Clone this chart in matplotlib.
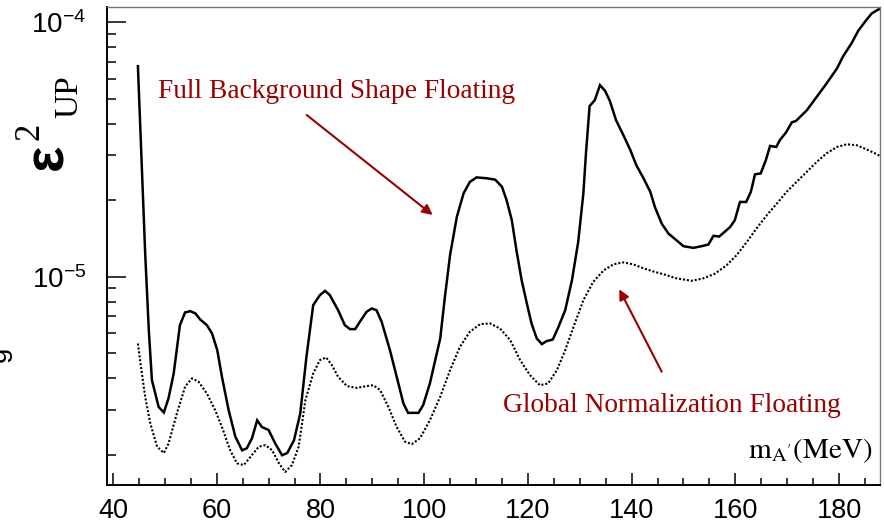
import numpy as np
import matplotlib
matplotlib.use("Agg")
import matplotlib.pyplot as plt
from matplotlib.ticker import FixedLocator, MultipleLocator, LogLocator, NullFormatter

plt.rcParams['mathtext.fontset'] = 'custom'
plt.rcParams['mathtext.rm'] = 'Liberation Sans'
plt.rcParams['mathtext.it'] = 'Liberation Sans:italic'
plt.rcParams['mathtext.bf'] = 'Liberation Sans:bold'

# Upper limit on epsilon^2 vs A' mass, values in units of 1e-6
# Full background shape floating
mass_full = [44.8, 46.2, 46.9, 47.5, 48.8, 49.8, 50.7, 51.7, 52.9, 53.9, 54.9, 55.9,
             56.8, 58.1, 59.1, 60.1, 61.0, 62.3, 63.6, 64.9, 65.8, 66.8, 67.8, 68.7,
             70.0, 71.3, 72.6, 73.6, 74.9, 76.1, 77.3, 78.6, 79.9, 80.9, 81.8, 83.4,
             84.7, 85.7, 86.7, 87.6, 88.9, 89.9, 90.8, 91.8, 93.4, 94.7, 96.0, 96.9,
             98.9, 99.8, 101.1, 103.1, 104.0, 105.0, 106.3, 107.6, 108.8, 110.1, 112.1,
             113.7, 115.0, 115.9, 116.9, 117.8, 118.8, 119.8, 120.7, 121.7, 122.7, 123.6,
             124.8, 125.9, 127.2, 128.5, 129.7, 130.7, 131.2, 131.9, 132.9, 133.9, 134.9,
             135.8, 137.0, 138.4, 139.7, 140.9, 142.3, 143.6, 144.5, 145.8, 147.1, 148.7,
             150.0, 151.9, 153.5, 154.8, 155.8, 156.9, 159.0, 159.9, 160.9, 162.1, 163.0,
             163.8, 164.9, 165.9, 166.7, 167.9, 168.6, 169.8, 170.9, 171.7, 173.8, 175.7,
             177.6, 179.6, 180.8, 182.4, 183.7, 185.0, 186.3, 187.6, 188.0]
eps2_full = [67.3, 12.4, 6.17, 3.93, 3.08, 2.93, 3.33, 4.17, 6.46, 7.25, 7.33, 7.18,
             6.80, 6.46, 5.99, 5.15, 4.05, 2.99, 2.35, 2.08, 2.12, 2.32, 2.73, 2.57,
             2.50, 2.21, 1.99, 2.03, 2.28, 2.90, 4.85, 7.74, 8.48, 8.81, 8.48, 7.40,
             6.46, 6.23, 6.23, 6.66, 7.29, 7.51, 7.40, 6.66, 5.15, 4.05, 3.18, 2.92,
             2.92, 3.13, 3.81, 5.73, 8.34, 12.2, 17.2, 21.3, 23.6, 24.6, 24.4,
             24.1, 22.6, 20.0, 16.7, 12.7, 9.70, 7.86, 6.56, 5.73, 5.44, 5.59,
             5.67, 6.36, 7.40, 9.70, 13.7, 21.3, 30.6, 46.9, 49.5, 56.7, 53.8,
             49.2, 41.3, 36.1, 31.7, 27.5, 24.4, 21.6, 18.8, 16.2, 14.8, 13.9,
             13.2, 13.0, 13.2, 13.4, 14.5, 14.4, 15.7, 16.7, 19.7, 19.7, 21.6,
             25.3, 25.5, 28.8, 32.7, 32.4, 34.5, 37.0, 40.5, 41.0, 45.2, 51.0,
             57.6, 65.9, 73.7, 82.7, 92.7, 100.6, 108.5, 112.5, 113.0]

# Global normalization floating
mass_norm = [44.8, 45.3, 46.2, 47.2, 48.5, 49.8, 50.7, 52.3, 53.9, 55.2, 56.5, 58.1,
             59.7, 61.0, 62.6, 63.9, 65.2, 66.5, 68.1, 69.4, 70.7, 72.0, 73.2, 74.5,
             75.8, 77.1, 78.6, 79.9, 81.1, 82.2, 83.4, 85.1, 87.0, 88.9, 90.2, 91.5,
             93.1, 94.7, 96.3, 97.6, 99.2, 101.1, 103.1, 105.0, 106.9, 108.8, 110.8,
             112.7, 114.6, 116.6, 118.5, 120.4, 122.3, 123.9, 125.6, 127.2, 128.8,
             130.7, 132.6, 134.6, 136.5, 138.4, 140.3, 142.3, 144.2, 146.4, 148.7,
             151.6, 153.8, 156.1, 158.3, 160.3, 162.2, 164.1, 166.1, 168.0, 169.9,
             171.8, 173.8, 175.7, 177.6, 179.6, 181.5, 183.4, 185.3, 186.9, 188.0]
eps2_norm = [5.47, 4.57, 3.38, 2.65, 2.15, 2.03, 2.21, 2.90, 3.70, 3.99, 3.87, 3.48,
             2.99, 2.57, 2.08, 1.85, 1.82, 1.96, 2.15, 2.18, 2.08, 1.85, 1.71, 1.82,
             2.15, 3.28, 4.17, 4.71, 4.82, 4.50, 4.05, 3.72, 3.66, 3.72, 3.75, 3.59,
             3.08, 2.57, 2.25, 2.20, 2.32, 2.73, 3.38, 4.30, 5.31, 6.08, 6.52,
             6.56, 6.27, 5.64, 4.71, 4.11, 3.75, 3.81, 4.30, 5.15, 6.36,
             8.10, 9.56, 10.6, 11.2, 11.4, 11.2, 10.8, 10.5, 10.2, 9.86,
             9.65, 9.86, 10.3, 11.1, 12.2, 13.7, 15.5, 17.5, 19.4, 21.6,
             23.6, 25.9, 28.3, 30.6, 32.4, 33.2, 32.9, 31.7, 30.6, 29.8]

x_major = [40, 60, 80, 100, 120, 140, 160, 180]
label_full = "Full Background Shape Floating"
label_norm = "Global Normalization Floating"
annot_color = "#990000"

W, H = 884, 525
fig = plt.figure(figsize=(W / 100, H / 100), dpi=100)
ax = fig.add_axes([107 / W, 1 - 485 / H, 773 / W, 478 / H])

unit = 1e-6
ax.plot(mass_full, np.array(eps2_full) * unit, color="black", lw=1.8,
        solid_joinstyle="miter")
ax.plot(mass_norm, np.array(eps2_norm) * unit, color="black", lw=1.5,
        linestyle=(0, (1, 0.9)))

ax.set_yscale("log")
ax.set_xlim(38.84, 187.9)
ax.set_ylim(1.52e-6, 1.15e-4)

ax.xaxis.set_major_locator(FixedLocator(x_major))
ax.xaxis.set_minor_locator(MultipleLocator(5))
ax.yaxis.set_major_locator(LogLocator(base=10))
ax.yaxis.set_minor_locator(LogLocator(base=10, subs=range(2, 10)))
ax.yaxis.set_minor_formatter(NullFormatter())

ax.tick_params(axis="x", which="major", direction="in", length=8.6, width=1.1,
               labelsize=19.5, pad=9, top=False)
ax.tick_params(axis="x", which="minor", direction="in", length=5, width=1.1, top=False)
ax.tick_params(axis="y", which="major", direction="in", length=13.5, width=1.1,
               labelsize=20, pad=15, right=False)
ax.tick_params(axis="y", which="minor", direction="in", length=6.5, width=1.1, right=False)
for lab in ax.get_xticklabels() + ax.get_yticklabels():
    lab.set_fontfamily("Liberation Sans")

for side in ("left", "bottom"):
    ax.spines[side].set_linewidth(1.4)
    ax.spines[side].set_color("black")
for side in ("top", "right"):
    ax.spines[side].set_linewidth(1.0)
    ax.spines[side].set_color("#777777")

# Annotations
ax.text(0.066, 0.8096, label_full, transform=ax.transAxes, color=annot_color,
        fontsize=19.7, family="Liberation Serif", ha="left", va="baseline")
ax.annotate("", xy=(0.4213, 0.5649), xytext=(0.2583, 0.7741),
            xycoords="axes fraction", textcoords="axes fraction",
            arrowprops=dict(arrowstyle="-|>", color=annot_color, lw=1.5,
                            mutation_scale=15, shrinkA=0, shrinkB=0))
ax.text(0.5123, 0.1527, label_norm, transform=ax.transAxes, color=annot_color,
        fontsize=19.7, family="Liberation Serif", ha="left", va="baseline")
ax.annotate("", xy=(0.6627, 0.4094), xytext=(0.7176, 0.2370),
            xycoords="axes fraction", textcoords="axes fraction",
            arrowprops=dict(arrowstyle="-|>", color=annot_color, lw=1.5,
                            mutation_scale=15, shrinkA=0, shrinkB=0))

# x-axis title inside the frame
ax.text(0.9897, 0.0565, r"$\mathrm{m}_{\mathrm{A}'}\mathrm{(MeV)}$", transform=ax.transAxes,
        fontsize=21, math_fontfamily="stix", ha="right", va="baseline", color="black")

# y-axis title: bold epsilon, superscript 2, subscript UP
fig.text(48 / W, 1 - 157 / H, "\u03b5", rotation=90, fontsize=40, fontweight="bold",
         family="Liberation Sans", ha="center", va="center")
fig.text(30 / W, 1 - 131 / H, "2", rotation=90, fontsize=25, family="Liberation Serif",
         ha="center", va="center")
fig.text(69 / W, 1 - 97 / H, "UP", rotation=90, fontsize=24, family="Liberation Serif",
         ha="center", va="center")
fig.text(-1 / W, 1 - 354 / H, "g", rotation=90, fontsize=20, family="Liberation Sans",
         ha="center", va="center")

fig.savefig("out.png", dpi=100)
